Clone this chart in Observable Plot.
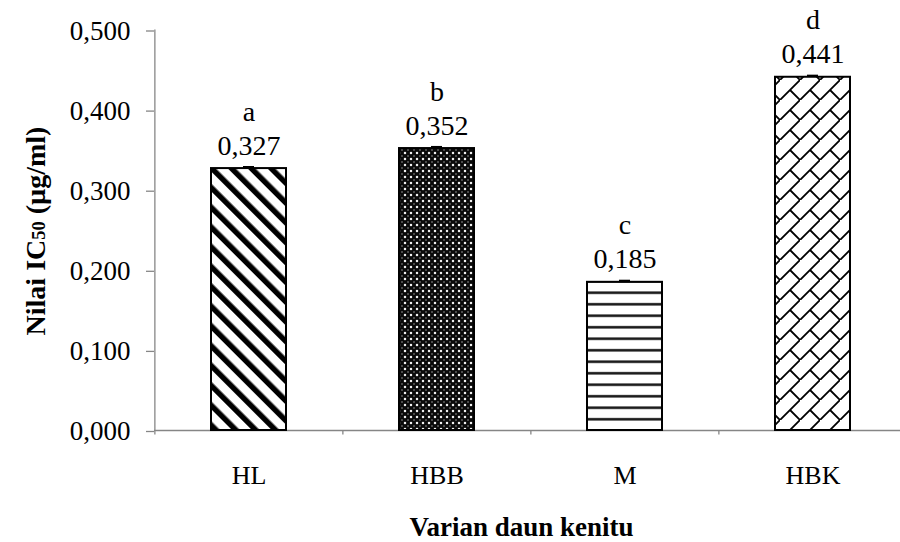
<!DOCTYPE html>
<html>
<head>
<meta charset="utf-8">
<script src="https://cdn.jsdelivr.net/npm/d3@7"></script>
<script src="https://cdn.jsdelivr.net/npm/@observablehq/plot@0.6"></script>
<style>
  html, body { margin: 0; padding: 0; background: #ffffff; }
  #chart svg { display: block; }
</style>
</head>
<body>
<div id="chart"></div>
<script>
// ---- data ----
const categories = ["HL", "HBB", "M", "HBK"];
const values = [0.327, 0.352, 0.185, 0.441];
const errors = [0.002, 0.002, 0.002, 0.002];
const letters = ["a", "b", "c", "d"];
const yTicks = [0, 0.1, 0.2, 0.3, 0.4, 0.5];
const patternIds = ["p-hl", "p-hbb", "p-m", "p-hbk"];
const xTitle = "Varian daun kenitu";

const data = categories.map((c, i) => ({
  cat: c, value: values[i], err: errors[i], letter: letters[i], pattern: patternIds[i]
}));

const fmt = d => d3.format(".3f")(d).replace(".", ",");
const serif = "'Liberation Serif', 'Times New Roman', Times, serif";
const gray = "#868686";
const left = 154, right = 907;
const step = (right - left) / categories.length;

const chart = Plot.plot({
  width: 900,
  height: 542,
  marginLeft: left,
  marginRight: 0,
  marginTop: 29.5,
  marginBottom: 112,
  style: { fontFamily: serif, background: "#ffffff", color: "black" },
  x: { domain: categories, range: [left, right], paddingInner: 0.6, paddingOuter: 0.3, axis: null },
  y: { domain: [0, 0.5], range: [430, 29.5], axis: null },
  marks: [
    // axes lines and category boundary ticks
    Plot.ruleY([0], { stroke: gray, strokeWidth: 1.3 }),
    Plot.ruleX([categories[0]], { dx: -step / 2, y1: -0.0055, y2: 0.5, stroke: gray, strokeWidth: 1.3 }),
    Plot.ruleX(categories.slice(1), { x: d => d, dx: -step / 2, y1: 0, y2: -0.0055, stroke: gray, strokeWidth: 1.3 }),
    Plot.axisY({
      ticks: yTicks, tickFormat: fmt, tickSize: 8, tickPadding: 16,
      fontSize: 27, stroke: gray, strokeWidth: 1.3, fill: "black", label: null, dy: 1
    }),
    Plot.axisX({ tickSize: 0, tickPadding: 35, fontSize: 26, fill: "black", label: null }),
    // bars with patterns
    ...data.map(d => Plot.barY([d], {
      x: "cat", y: "value", fill: `url(#${d.pattern})`, stroke: "black", strokeWidth: 2
    })),
    // error bars
    Plot.ruleX(data, { x: "cat", y1: "value", y2: d => d.value + d.err, stroke: "black", strokeWidth: 1.5 }),
    Plot.tickY(data, { x: "cat", y: d => d.value + d.err, stroke: "black", strokeWidth: 2, insetLeft: 32, insetRight: 32 }),
    // value labels and significance letters
    Plot.text(data, { x: "cat", y: "value", text: d => fmt(d.value), dy: -14, lineAnchor: "bottom", fontSize: 28, fill: "black" }),
    Plot.text(data, { x: "cat", y: "value", text: "letter", dy: -48, lineAnchor: "bottom", fontSize: 28, fill: "black" }),
    // x axis title
    Plot.text([xTitle], { frameAnchor: "bottom", dx: -6, dy: 105, lineAnchor: "bottom", fontSize: 27, fontWeight: "bold", fill: "black" })
  ]
});

document.getElementById("chart").appendChild(chart);

// ---- fill patterns ----
const svg = d3.select(chart);
const defs = svg.insert("defs", ":first-child");

// HL: thick diagonal stripes "\"
const p1 = defs.append("pattern").attr("id", "p-hl").attr("patternUnits", "userSpaceOnUse")
  .attr("width", 14).attr("height", 14).attr("patternTransform", "rotate(-45)");
p1.append("rect").attr("width", 14).attr("height", 14).attr("fill", "#ffffff");
p1.append("rect").attr("width", 5.5).attr("height", 14).attr("fill", "#000000");

// HBB: dense dark dotted grid
const p2 = defs.append("pattern").attr("id", "p-hbb").attr("patternUnits", "userSpaceOnUse")
  .attr("width", 6).attr("height", 6);
p2.append("rect").attr("width", 6).attr("height", 6).attr("fill", "#0a0a0a");
p2.append("circle").attr("cx", 3).attr("cy", 3).attr("r", 1.25).attr("fill", "#f0f0f0");
[[0, 0], [6, 0], [0, 6], [6, 6]].forEach(([cx, cy]) =>
  p2.append("circle").attr("cx", cx).attr("cy", cy).attr("r", 0.8).attr("fill", "#9a9a9a"));

// M: horizontal lines
const p3 = defs.append("pattern").attr("id", "p-m").attr("patternUnits", "userSpaceOnUse")
  .attr("width", 10).attr("height", 11.5);
p3.append("rect").attr("width", 10).attr("height", 11.5).attr("fill", "#ffffff");
p3.append("rect").attr("y", 4).attr("width", 10).attr("height", 2.5).attr("fill", "#111111");

// HBK: diagonal brick
const p4 = defs.append("pattern").attr("id", "p-hbk").attr("patternUnits", "userSpaceOnUse")
  .attr("width", 20).attr("height", 20);
p4.append("rect").attr("width", 20).attr("height", 20).attr("fill", "#ffffff");
p4.append("path").attr("d", "M-1,21L21,-1M10,10L21,21M-1,-1L0,0")
  .attr("stroke", "#000000").attr("stroke-width", 1.8).attr("fill", "none");

// ---- y axis title with smaller "50" ----
const yt = svg.append("text")
  .attr("transform", "translate(45,231) rotate(-90)")
  .attr("text-anchor", "middle")
  .attr("font-family", serif)
  .attr("font-weight", "bold")
  .attr("font-size", 28)
  .attr("fill", "black");
yt.append("tspan").text("Nilai IC");
yt.append("tspan").attr("font-size", 18.5).text("50");
yt.append("tspan").text(" (µg/ml)");
</script>
</body>
</html>
